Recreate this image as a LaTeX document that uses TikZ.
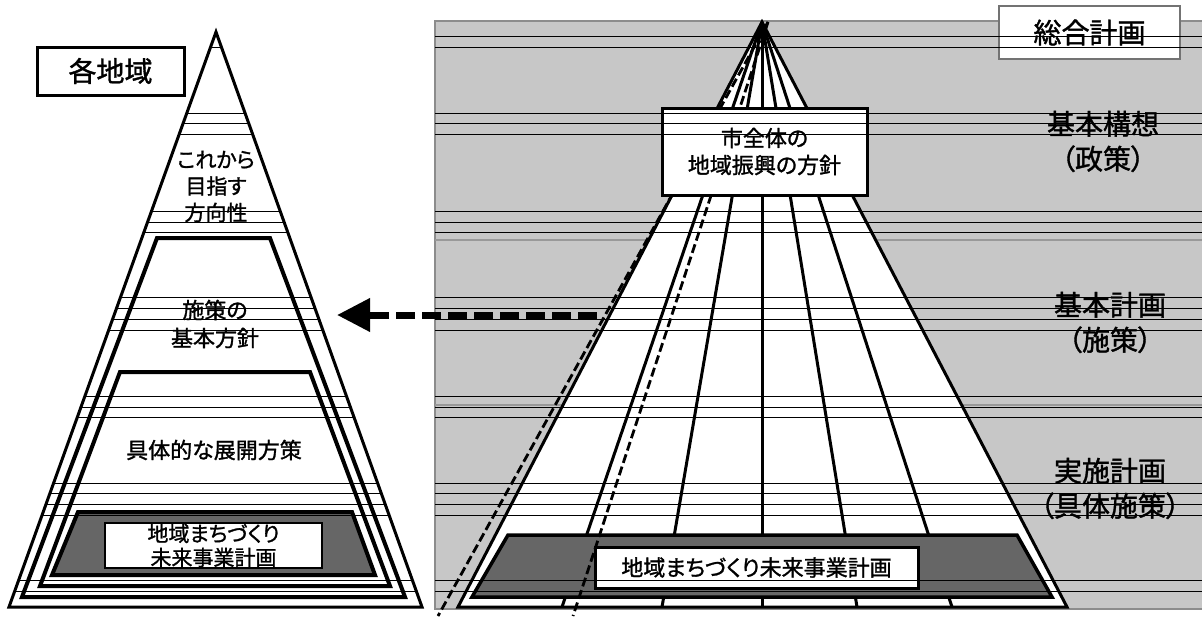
\documentclass[tikz,border=0pt]{standalone}
\usepackage{fontspec}
\newfontfamily\jpfont{Noto Sans CJK JP}[RawFeature=+palt,FakeBold=1.3]
\usetikzlibrary{arrows.meta}
\newcommand\scanys{36,47,113,123,134,211,222,232,297,308,319,330,396,407,417,483,493,504,515,580,591}
\begin{document}
\begin{tikzpicture}[x=1pt,y=-1pt,
      lbl/.style={font=\jpfont\fontsize{22}{27}\selectfont,align=center,inner sep=0pt},
      big/.style={font=\jpfont\fontsize{28}{35}\selectfont,align=center,inner sep=0pt},
      tier/.style={draw,line width=4pt,fill=white},
      shade/.style={draw,line width=3.5pt,fill=black!60},
      dashline/.style={line width=2.8pt,dash pattern=on 9pt off 4pt}]
      \useasboundingbox (0,0) rectangle (1202,616);
      \draw[black!45,line width=2pt,fill=black!22] (435,21) rectangle (1210,609);
      \draw[black!40,line width=1.5pt] (435,240) -- (1210,240) (435,405) -- (1210,405);
      \draw[line width=3pt,fill=white] (762,22) -- (1067,607) -- (458,607) -- cycle;
      \foreach \dx in {-200,-100,0,95,190}
        \draw[line width=3pt] (762,22) -- (762+\dx,607);
      \draw[shade] (508,535) -- (1017,535) -- (1052,597) -- (472,597) -- cycle;
      \draw[dashline] (768,22) -- (438,616);
      \draw[dashline] (768,22) -- (573,616);
      \node[draw,line width=3pt,fill=white,minimum width=205pt,minimum height=87pt,lbl] (city) at (764.5,151.5) {市全体の\\地域振興の方針};
      \node[draw,line width=3pt,fill=white,minimum width=323pt,minimum height=41pt,lbl] (plan) at (756.5,567.5) {地域まちづくり未来事業計画};
      \node[draw=black!55,line width=2pt,fill=white,minimum width=181pt,minimum height=53pt,big] (sougou) at (1089.5,32.5) {総合計画};
      \node[big] (kousou) at (1103,141.5) {基本構想\\（政策）};
      \node[big] (kihon) at (1110,322.5) {基本計画\\（施策）};
      \node[big] (jisshi) at (1110,488.5) {実施計画\\（具体施策）};
      \draw[line width=3pt,fill=white] (216,32) -- (422,607) -- (9,607) -- cycle;
      \draw[tier] (157,238) -- (270,238) -- (405,597) -- (22,597) -- cycle;
      \draw[tier] (120,372) -- (310,372) -- (390,586) -- (40,586) -- cycle;
      \draw[tier,fill=black!60] (78,512) -- (352,512) -- (375,575) -- (52,575) -- cycle;
      \node[draw,line width=3pt,fill=white,minimum width=147pt,minimum height=48pt,big] (kaku) at (110.5,71) {各地域};
      \node[lbl,font=\jpfont\fontsize{21}{26.5}\selectfont] (hoko) at (216,186.5) {これから\\目指す\\方向性};
      \node[lbl,font=\jpfont\fontsize{22}{28}\selectfont] (shisaku) at (215,324) {施策の\\基本方針};
      \node[lbl] (tenkai) at (214,450) {具体的な展開方策};
      \node[draw,line width=1.2pt,fill=white,minimum width=217pt,minimum height=45pt,lbl,font=\jpfont\fontsize{21}{24}\selectfont] (chiiki) at (213.5,545.5) {地域まちづくり\\未来事業計画};
      \coordinate (arrS) at (597,315);
      \coordinate (arrE) at (337,315);
      \draw[line width=7pt,dash pattern=on 19pt off 7pt,-{Triangle[length=33pt,width=32pt]}] (arrS) -- (arrE);
      \begin{scope}
        \clip (216,32) -- (422,607) -- (9,607) -- cycle;
        \foreach \y in \scanys \draw[line width=0.8pt] (0,\y) -- (430,\y);
      \end{scope}
      \begin{scope}
        \clip (435,21) rectangle (1202,609);
        \foreach \y in \scanys \draw[line width=0.8pt] (435,\y) -- (1202,\y);
      \end{scope}
\end{tikzpicture}
\end{document}
